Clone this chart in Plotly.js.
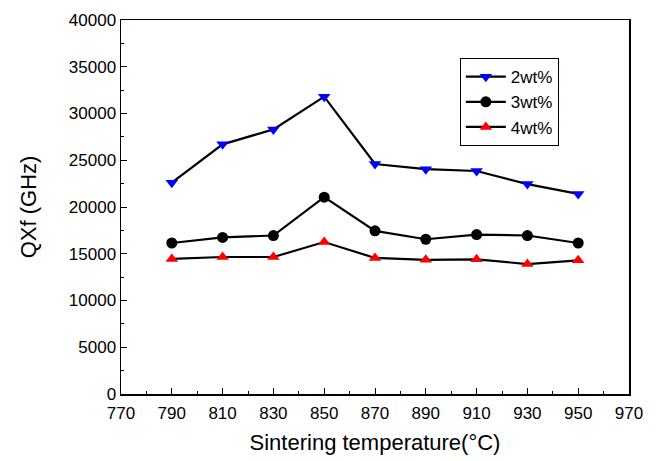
<!DOCTYPE html>
<html><head><meta charset="utf-8">
<script src="https://cdn.plot.ly/plotly-3.0.1.min.js"></script>
<style>body{margin:0;padding:0;background:#fff}#chart{width:657px;height:461px}</style>
</head><body><div id="chart"></div>
<script>
const temps = [790, 810, 830, 850, 870, 890, 910, 930, 950];
const qf2wt = [22600, 26700, 28300, 31800, 24600, 24050, 23850, 22450, 21400];
const qf3wt = [16150, 16750, 16950, 21050, 17450, 16550, 17050, 16950, 16150];
const qf4wt = [14450, 14650, 14650, 16250, 14550, 14350, 14400, 13900, 14300];
const seriesNames = ['2wt%', '3wt%', '4wt%'];

const mk = (y, name, sym, col) => ({
  x: temps, y: y, name: name, type: 'scatter', mode: 'lines+markers',
  line: {color: '#000', width: 2.2},
  marker: {symbol: sym, color: col, size: 11, line: {width: 0}}
});
const data = [
  mk(qf2wt, seriesNames[0], 'triangle-down', '#0000ff'),
  mk(qf3wt, seriesNames[1], 'circle', '#000000'),
  mk(qf4wt, seriesNames[2], 'triangle-up', '#ff0000')
];
const font = {family: 'Liberation Sans, Arial, sans-serif', color: '#000'};
const layout = {
  width: 657, height: 461,
  margin: {l: 121, r: 28, t: 20, b: 67},
  paper_bgcolor: '#fff', plot_bgcolor: '#fff',
  font: Object.assign({size: 17}, font),
  showlegend: true,
  legend: {x: 0.667, y: 0.898, xanchor: 'left', yanchor: 'top',
    bordercolor: '#000', borderwidth: 1, bgcolor: '#fff',
    font: Object.assign({size: 17}, font), tracegroupgap: 0, itemwidth: 40},
  xaxis: {range: [770, 970], tick0: 770, dtick: 20, ticks: 'inside', ticklen: 6,
    tickwidth: 1, tickcolor: '#000', showline: true, linecolor: '#000', linewidth: 1.5,
    mirror: true, showgrid: false, zeroline: false, ticklabelstandoff: 3,
    minor: {dtick: 10, ticks: 'inside', ticklen: 3, tickcolor: '#000', showgrid: false},
    tickfont: Object.assign({size: 17}, font),
    title: {text: 'Sintering temperature(°C)', font: Object.assign({size: 22}, font), standoff: 12}},
  yaxis: {range: [0, 40000], dtick: 5000, tickformat: 'd', ticks: 'inside', ticklen: 6,
    tickwidth: 1, tickcolor: '#000', showline: true, linecolor: '#000', linewidth: 1.5,
    mirror: true, showgrid: false, zeroline: false,
    minor: {dtick: 2500, ticks: 'inside', ticklen: 3, tickcolor: '#000', showgrid: false},
    tickfont: Object.assign({size: 17}, font),
    title: {text: 'QXf (GHz)', font: Object.assign({size: 22}, font), standoff: 26}}
};
Plotly.newPlot('chart', data, layout, {displayModeBar: false, staticPlot: true});
</script></body></html>
